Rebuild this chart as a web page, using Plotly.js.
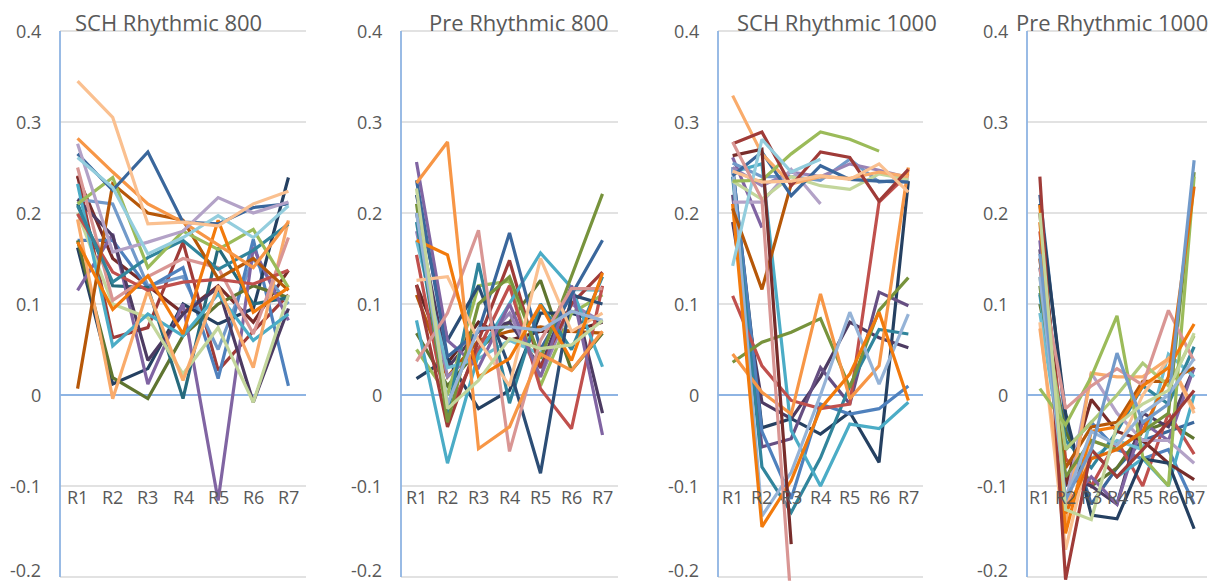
<!DOCTYPE html>
<html>
<head>
<meta charset="utf-8">
<script src="https://cdn.plot.ly/plotly-3.0.1.min.js"></script>
<style>html,body{margin:0;padding:0;background:#fff}#chart{width:1219px;height:582px}</style>
</head>
<body>
<div id="chart"></div>
<script>
// ---------- data ----------
const categories = ["R1","R2","R3","R4","R5","R6","R7"];
const panelTitles = ["SCH Rhythmic 800","Pre Rhythmic 800","SCH Rhythmic 1000","Pre Rhythmic 1000"];
const yTickVals = [-0.2,-0.1,0,0.1,0.2,0.3,0.4];
const yTickText = ["-0.2","-0.1","0","0.1","0.2","0.3","0.4"];

const sch800 = [
  [0.241,0.063,0.074,0.168,0.027,0.070,0.110],
  [0.240,0.150,0.120,0.090,0.120,0.080,0.137],
  [0.215,0.210,0.120,0.130,0.050,0.150,0.100],
  [0.170,0.170,0.118,0.140,0.018,0.171,0.010],
  [0.162,0.012,0.029,0.100,0.078,0.095,0.239],
  [0.170,0.019,-0.004,0.065,0.100,0.120,0.107],
  [0.210,0.120,0.118,-0.004,0.162,0.100,0.107],
  [0.115,0.177,0.012,0.100,-0.116,0.162,0.082],
  [0.215,0.175,0.038,0.089,0.118,-0.008,0.095],
  [0.200,0.100,0.085,0.023,0.074,-0.008,0.110],
  [0.232,0.054,0.089,0.065,0.111,0.060,0.089],
  [0.193,-0.004,0.115,0.016,0.120,0.030,0.192],
  [0.250,0.104,0.130,0.150,0.140,0.067,0.173],
  [0.199,0.135,0.115,0.124,0.127,0.122,0.137],
  [0.208,0.124,0.151,0.170,0.138,0.159,0.188],
  [0.007,0.232,0.200,0.192,0.128,0.150,0.115],
  [0.210,0.239,0.140,0.180,0.160,0.182,0.118],
  [0.168,0.094,0.131,0.067,0.192,0.091,0.118],
  [0.282,0.245,0.210,0.190,0.165,0.140,0.190],
  [0.265,0.225,0.267,0.190,0.188,0.206,0.210],
  [0.276,0.157,0.168,0.180,0.217,0.200,0.212],
  [0.261,0.228,0.155,0.173,0.197,0.173,0.208],
  [0.345,0.305,0.188,0.190,0.186,0.210,0.224]
];
const pre800 = [
  [0.121,0.035,0.080,0.060,0.070,0.070,0.080],
  [0.110,0.020,0.060,0.070,0.075,0.070,0.068],
  [0.068,0.010,0.050,0.080,0.126,0.027,0.068],
  [0.018,0.040,-0.015,0.005,0.090,0.090,0.080],
  [0.200,0.030,0.070,0.080,0.030,0.120,-0.020],
  [0.180,0.020,0.050,0.090,0.020,0.100,0.080],
  [0.050,0.000,0.120,0.125,0.010,0.090,0.110],
  [0.170,0.030,0.040,0.060,0.045,0.116,0.115],
  [0.154,-0.020,0.050,0.120,0.007,-0.037,0.120],
  [0.121,-0.035,0.060,0.148,0.030,0.100,0.135],
  [0.190,-0.020,0.145,-0.009,0.100,0.050,0.130],
  [0.082,-0.075,0.045,0.100,0.156,0.118,0.031],
  [0.220,0.060,0.120,0.030,-0.086,0.110,0.100],
  [0.256,0.060,0.030,0.100,0.020,0.120,-0.044],
  [0.236,0.042,0.070,0.178,0.050,0.110,0.170],
  [0.210,-0.030,0.100,0.130,0.040,0.130,0.221],
  [0.126,0.130,0.060,0.010,0.150,0.070,0.090],
  [0.037,0.090,0.181,-0.062,0.060,0.117,0.117],
  [0.170,0.154,0.020,0.040,0.099,0.038,0.134],
  [0.233,0.278,-0.059,-0.035,0.045,0.027,0.070],
  [0.200,-0.010,0.073,0.075,0.071,0.092,0.082],
  [0.227,-0.015,0.016,0.062,0.051,0.055,0.082]
];
const sch1000 = [
  [0.250,-0.036,-0.026,-0.043,-0.019,-0.074,0.235],
  [0.190,-0.008,-0.026,0.020,0.080,0.063,0.052],
  [0.220,-0.057,-0.048,0.030,-0.010,0.113,0.098],
  [0.250,-0.040,-0.114,-0.010,-0.021,-0.015,0.010],
  [0.240,-0.079,-0.129,-0.069,0.010,0.072,0.067],
  [0.245,0.254,-0.039,-0.100,-0.032,-0.037,-0.008],
  [0.109,0.032,-0.006,-0.015,-0.010,0.212,0.243],
  [0.036,0.058,0.069,0.084,0.008,0.093,0.129],
  [0.045,0.003,-0.021,0.111,-0.004,0.032,0.250],
  [0.250,-0.133,-0.085,0.000,0.091,0.012,0.089],
  [0.210,-0.145,-0.094,-0.015,0.023,0.091,-0.006],
  [0.205,0.116,0.232,null,null,null,null],
  [0.261,0.184,null,null,null,null,null],
  [0.255,0.240,0.240,0.236,0.259,0.234,0.237],
  [0.250,0.230,0.245,0.240,0.254,0.247,0.239],
  [0.212,0.212,0.248,0.210,null,null,null],
  [0.235,0.215,0.240,0.230,0.226,0.243,0.237],
  [0.241,0.267,0.219,0.252,0.237,0.235,0.234],
  [0.329,0.265,0.232,0.240,0.238,0.245,0.240],
  [0.235,0.236,0.265,0.289,0.281,0.268,null],
  [0.263,0.270,-0.164,null,null,null,null],
  [0.276,0.289,0.230,0.267,0.261,0.213,0.248],
  [0.246,0.234,0.235,0.241,0.237,0.254,0.223],
  [0.142,0.281,0.245,0.259,null,null,null],
  [0.278,0.215,-0.230,null,null,null,null]
];
const pre1000 = [
  [0.140,-0.060,-0.030,-0.060,-0.070,-0.060,-0.120],
  [0.220,-0.030,-0.120,-0.080,-0.050,-0.040,-0.030],
  [0.100,-0.040,-0.100,-0.080,-0.040,-0.030,-0.048],
  [0.180,-0.070,-0.100,-0.050,-0.100,-0.020,-0.065],
  [0.160,-0.090,-0.100,-0.120,-0.020,-0.035,0.030],
  [0.170,-0.120,-0.090,-0.120,-0.030,-0.050,0.030],
  [0.110,-0.100,-0.060,-0.090,-0.070,-0.100,0.000],
  [0.090,-0.090,-0.070,-0.050,-0.060,0.045,0.020],
  [0.112,-0.050,-0.080,-0.040,0.010,-0.010,0.053],
  [0.200,-0.100,-0.005,-0.040,-0.050,-0.075,-0.093],
  [0.210,-0.020,-0.132,-0.136,-0.070,-0.075,-0.147],
  [0.150,-0.120,0.024,-0.020,-0.050,-0.050,-0.075],
  [0.150,-0.080,-0.035,-0.030,0.015,0.015,0.030],
  [0.080,-0.170,-0.050,-0.060,0.000,0.040,-0.020],
  [0.073,-0.140,0.024,0.020,0.020,0.040,-0.016],
  [0.130,-0.060,-0.030,0.000,0.035,0.010,0.065],
  [0.120,-0.090,-0.050,-0.060,-0.040,-0.020,0.245],
  [0.007,-0.033,0.020,0.087,-0.068,-0.100,0.240],
  [0.139,-0.015,0.010,0.029,0.011,0.093,0.037],
  [0.190,-0.130,-0.070,-0.060,-0.040,0.020,0.229],
  [0.209,-0.152,-0.040,-0.035,0.010,0.030,0.078],
  [0.240,-0.203,-0.060,-0.090,-0.060,-0.030,0.005],
  [0.130,-0.115,-0.040,-0.055,-0.020,0.000,0.040],
  [0.155,-0.115,-0.060,0.046,-0.030,-0.010,0.258],
  [0.200,-0.126,-0.137,-0.033,-0.010,0.005,0.068]
];

// ---------- styles ----------
const colors800 = ["#9F3B38","#772C2A","#729ACA","#4F81BD","#254061","#5F7530","#276A7C","#8064A2","#4D3B62","#C3D69B","#4BACC6","#F9AB6B","#D99694","#C0504D","#31859C","#B65708","#9BBB59","#F27A0C","#F79646","#3A679C","#B3A2C7","#93CDDD","#FAC090"];
const colorsP800 = ["#632523","#B65708","#5F7530","#254061","#4D3B62","#9983B5","#9BBB59","#6FBDD1","#C0504D","#9F3B38","#31859C","#4BACC6","#2C4D75","#8064A2","#3A679C","#77933C","#FAC090","#D99694","#F27A0C","#F79646","#95B3D7","#C3D69B"];
const colors1000 = ["#254061","#4D3B62","#664F82","#4F81BD","#31859C","#4BACC6","#C0504D","#77933C","#F79646","#95B3D7","#F27A0C","#B65708","#8064A2","#729ACA","#9983B5","#B3A2C7","#C3D69B","#3A679C","#F9AB6B","#9BBB59","#772C2A","#9F3B38","#FAC090","#93CDDD","#D99694"];
const colorsP1000 = ["#4F81BD","#3A679C","#5F7530","#C0504D","#4D3B62","#8064A2","#4BACC6","#6FBDD1","#31859C","#772C2A","#254061","#B3A2C7","#B65708","#FAC090","#F9AB6B","#AFC97A","#77933C","#9BBB59","#D99694","#E46C0A","#F27A0C","#9F3B38","#95B3D7","#729ACA","#C3D69B"];

const panels = [
  {data: sch800, colors: colors800},
  {data: pre800, colors: colorsP800},
  {data: sch1000, colors: colors1000},
  {data: pre1000, colors: colorsP1000}
];

const W = 1219, H = 582;
const xDomainsPx = [[60,306],[401,618],[718,923],[1027,1207]];
const titleCenterPx = [168,519,837,1112];
const PAD = 0.004;
const pxPerUnit = (577-31)/0.6;
const yDomain = [(H-577-PAD*pxPerUnit)/H, (H-31+PAD*pxPerUnit)/H];
const FONT = "Open Sans, Liberation Sans, sans-serif";
const TXT = "#595959";
const GRID = "#D9D9D9", AXIS = "#8EB4E3";

const traces = [];
const layout = {
  width: W, height: H,
  margin: {l:0, r:0, t:0, b:0},
  paper_bgcolor: "#ffffff", plot_bgcolor: "rgba(0,0,0,0)",
  showlegend: false,
  annotations: [],
  shapes: []
};

panels.forEach((p, i) => {
  const n = i === 0 ? "" : String(i+1);
  p.data.forEach((vals, k) => {
    traces.push({
      type: "scatter", mode: "lines",
      x: categories, y: vals,
      xaxis: "x"+n, yaxis: "y"+n,
      line: {color: p.colors[k % p.colors.length], width: 3.2},
      connectgaps: false, hoverinfo: "skip"
    });
  });
  layout["xaxis"+n] = {
    type: "category", categoryorder: "array", categoryarray: categories,
    domain: [xDomainsPx[i][0]/W, xDomainsPx[i][1]/W],
    range: [-0.5, 6.5], anchor: "y"+n,
    showgrid: false, zeroline: false, showline: false, showticklabels: false, ticks: "",
    fixedrange: true
  };
  layout["yaxis"+n] = {
    domain: yDomain, range: [-0.2-PAD, 0.4+PAD], anchor: "x"+n,
    showgrid: false, zeroline: false, showline: false, showticklabels: false, ticks: "",
    fixedrange: true
  };
  // horizontal gridlines (the 0 line is the blue horizontal axis) and y tick labels
  yTickVals.forEach((v, j) => {
    layout.shapes.push({
      type: "line", layer: "below", xref: "x"+n+" domain", yref: "y"+n,
      x0: 0, x1: 1, y0: v, y1: v,
      line: {color: v === 0 ? AXIS : GRID, width: v === 0 ? 1.8 : 1.5}
    });
    layout.annotations.push({
      xref: "x"+n+" domain", yref: "y"+n, x: 0, y: v, xshift: -17,
      yshift: j === 0 ? 7 : 0,
      text: yTickText[j], showarrow: false, xanchor: "right", yanchor: "middle",
      font: {family: FONT, size: 18, color: TXT}
    });
  });
  // vertical axis line
  layout.shapes.push({
    type: "line", layer: "below", xref: "x"+n+" domain", yref: "y"+n,
    x0: 0, x1: 0, y0: yTickVals[0], y1: yTickVals[yTickVals.length-1],
    line: {color: AXIS, width: 1.8}
  });
  categories.forEach(c => {
    layout.annotations.push({
      xref: "x"+n, yref: "y"+n, x: c, y: -0.112, text: c, showarrow: false,
      font: {family: FONT, size: 18, color: TXT}, xanchor: "center", yanchor: "middle"
    });
  });
  layout.annotations.push({
    xref: "paper", yref: "paper", x: titleCenterPx[i]/W, y: 1 - 22/H,
    text: panelTitles[i], showarrow: false, xanchor: "center", yanchor: "middle",
    font: {family: FONT, size: 22, color: TXT}
  });
});

Plotly.newPlot("chart", traces, layout, {staticPlot: true, displayModeBar: false});
</script>
</body>
</html>
